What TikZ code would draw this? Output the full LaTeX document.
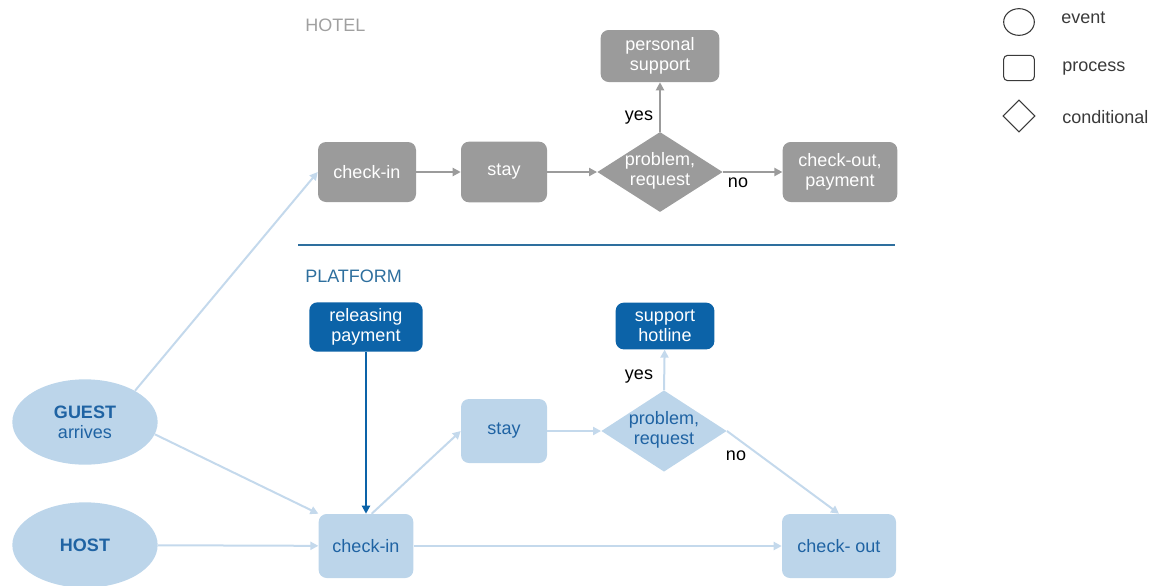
\documentclass[tikz,border=0pt]{standalone}
\usepackage{fontspec}
\setmainfont{Liberation Sans}
\usetikzlibrary{shapes.geometric,arrows.meta}
\definecolor{hgray}{HTML}{9B9B9B}
\definecolor{hlabel}{HTML}{A0A0A0}
\definecolor{lblue}{HTML}{BCD5EA}
\definecolor{lline}{HTML}{C4D9EC}
\definecolor{tblue}{HTML}{1F63A3}
\definecolor{dblue}{HTML}{0C63A8}
\definecolor{sepblue}{HTML}{2E6F9E}
\definecolor{legline}{HTML}{3A3A3A}
\tikzset{
  base/.style={font=\fontsize{13.5pt}{15pt}\selectfont, align=center, inner sep=0pt},
  hbox/.style={base, rectangle, rounded corners=6pt, fill=hgray, text=white},
  pbox/.style={base, rectangle, rounded corners=6pt, fill=lblue, text=tblue},
  dbox/.style={base, rectangle, rounded corners=6pt, fill=dblue, text=white},
  hdia/.style={diamond, fill=hgray, inner sep=0pt},
  pdia/.style={diamond, fill=lblue, inner sep=0pt},
  evt/.style={base, ellipse, fill=lblue, text=tblue, minimum width=109pt, minimum height=64pt},
  txt/.style={base},
  harrow/.style={draw=hgray, line width=1.5pt, -{Triangle[length=6pt,width=6pt]}},
  parrow/.style={draw=lline, line width=1.5pt, -{Triangle[length=6pt,width=6pt]}},
  darrow/.style={draw=dblue, line width=1.5pt, -{Triangle[length=6pt,width=6pt]}},
  lab/.style={base, text=black},
  leg/.style={draw=legline, line width=0.8pt, inner sep=0pt},
}
\begin{document}
\begin{tikzpicture}[x=0.75pt,y=-0.75pt]
\useasboundingbox (0,0) rectangle (1158,586);
% legend
\node[leg, ellipse, minimum width=23pt, minimum height=20pt] (lev) at (1019,22) {};
\node[leg, rectangle, rounded corners=3pt, minimum width=23pt, minimum height=19pt] (lpr) at (1019,68) {};
\node[leg, diamond, minimum width=24pt, minimum height=24pt] (lco) at (1019,116) {};
\node[base, anchor=west, text=legline] (tev) at (1061,18) {event};
\node[base, anchor=west, text=legline] (tpr) at (1062,69) {process};
\node[base, anchor=west, text=legline] (tco) at (1062,117) {conditional};
% hotel
\node[base, anchor=west, text=hlabel] (hotel) at (305,25) {HOTEL};
\node[hbox, minimum width=73.5pt, minimum height=45pt] (hci) at (367,172) {check-in};
\node[hbox, minimum width=64.5pt, minimum height=45.5pt] (hst) at (504,172) {stay};
\node[hdia, minimum width=94pt, minimum height=60pt] (hd) at (660,172) {};
\node[base, text=white] (hdt) at (660,171) {problem,\\request};
\node[hbox, minimum width=89pt, minimum height=39pt] (hps) at (660,56) {personal\\support};
\node[hbox, minimum width=86pt, minimum height=45pt] (hco) at (840,172) {check-out,\\payment};
\node[lab] (hyes) at (639,118) {yes};
\node[lab] (hno) at (738,183) {no};
\draw[harrow] (hci) -- (hst);
\draw[harrow] (hst) -- (hd.west);
\draw[harrow] (hd.north) -- (hps);
\draw[harrow] (hd.east) -- (hco);
% separator
\coordinate (s1) at (298,245);
\coordinate (s2) at (895,245);
\draw[sepblue, line width=1pt] (s1) -- (s2);
% platform
\node[base, anchor=west, text=sepblue] (plat) at (305,276) {PLATFORM};
\node[evt] (guest) at (85,422) {\textbf{GUEST}\\arrives};
\node[evt] (host) at (85,545) {\textbf{HOST}};
\node[dbox, minimum width=85pt, minimum height=37pt] (rel) at (366,327) {releasing\\payment};
\node[pbox, minimum width=71pt, minimum height=48pt] (pci) at (366,546) {check-in};
\node[pbox, minimum width=64.5pt, minimum height=48pt] (pst) at (504,431) {stay};
\node[pdia, minimum width=94pt, minimum height=61pt] (pd) at (664,431) {};
\node[base, text=tblue] (pdt) at (664,430) {problem,\\request};
\node[dbox, minimum width=74pt, minimum height=35pt] (sup) at (665,326) {support\\hotline};
\node[pbox, minimum width=85.5pt, minimum height=48pt] (pco) at (839,546) {check- out};
\node[lab] (pyes) at (639,377) {yes};
\node[lab] (pno) at (736,456) {no};
\draw[parrow] (guest.32) -- (hci.west);
\draw[parrow] (guest.-10) -- (pci.north west);
\draw[parrow] (host) -- (pci);
\draw[darrow] (rel) -- (pci);
\draw[parrow] (pci.80) -- (pst.west);
\draw[parrow] (pst) -- (pd.west);
\draw[parrow] (pd.north) -- (sup);
\draw[parrow] (pd.east) -- (pco.north);
\draw[parrow] (pci) -- (pco);
\end{tikzpicture}
\end{document}
